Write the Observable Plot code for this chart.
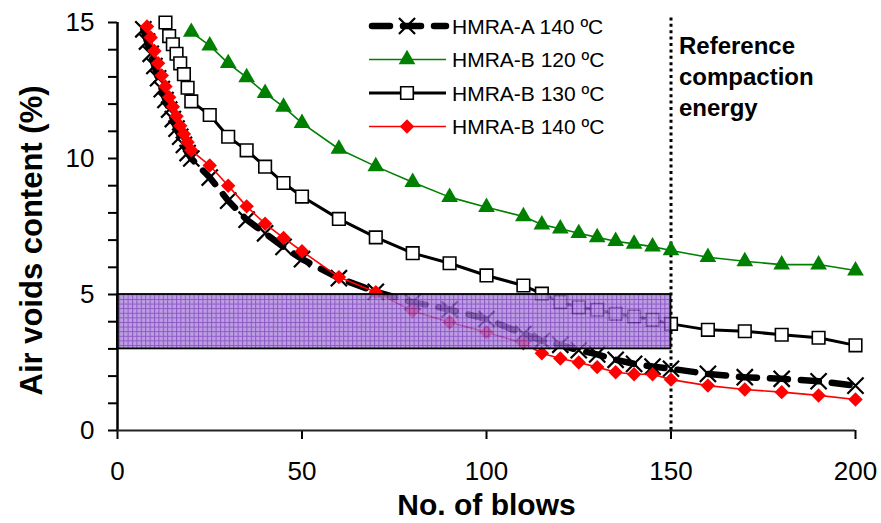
<!DOCTYPE html>
<html><head><meta charset="utf-8">
<script src="https://cdn.jsdelivr.net/npm/d3@7"></script>
<script src="https://cdn.jsdelivr.net/npm/@observablehq/plot@0.6"></script>
<style>
body{margin:0;background:#fff;}
#wrap{position:relative;width:881px;height:523px;font-family:"Liberation Sans",Arial,sans-serif;}
#wrap svg{position:absolute;left:0;top:0;}
</style></head><body><div id="wrap"></div>
<script>
// ---- data ----
const seriesNames = ["HMRA-A 140 ºC", "HMRA-B 120 ºC", "HMRA-B 130 ºC", "HMRA-B 140 ºC"];

const blowsA140 = [7,8,9,10,11,12,13,14,15,16,17,18,19,20,25,30,35,40,45,50,60,70,80,90,100,110,115,120,125,130,135,140,145,150,160,170,180,190,200];
const voidsA140 = [14.75,14.3,13.85,13.4,12.95,12.55,12.15,11.8,11.45,11.1,10.8,10.5,10.2,10.0,9.3,8.45,7.75,7.25,6.75,6.3,5.6,5.1,4.72,4.45,4.1,3.55,3.3,3.15,2.95,2.8,2.6,2.45,2.35,2.27,2.08,1.96,1.9,1.81,1.65];

const blowsB120 = [20,25,30,35,40,45,50,60,70,80,90,100,110,115,120,125,130,135,140,145,150,160,170,180,190,200];
const voidsB120 = [14.65,14.15,13.5,12.98,12.4,11.9,11.3,10.35,9.71,9.13,8.58,8.21,7.87,7.57,7.42,7.25,7.1,6.96,6.86,6.76,6.62,6.37,6.22,6.1,6.1,5.88];

const blowsB130 = [13,14,15,16,17,18,19,20,25,30,35,40,45,50,60,70,80,90,100,110,115,120,125,130,135,140,145,150,160,170,180,190,200];
const voidsB130 = [15.0,14.5,14.2,13.85,13.5,13.1,12.6,12.1,11.6,10.8,10.3,9.7,9.1,8.6,7.78,7.1,6.52,6.15,5.7,5.33,5.03,4.72,4.53,4.44,4.29,4.19,4.07,3.92,3.7,3.65,3.52,3.41,3.13];

const blowsB140 = [8,9,10,11,12,13,14,15,16,17,18,19,20,25,30,35,40,45,50,60,70,80,90,100,110,115,120,125,130,135,140,145,150,160,170,180,190,200];
const voidsB140 = [14.85,14.45,13.95,13.5,13.05,12.65,12.25,11.9,11.55,11.2,10.9,10.6,10.3,9.74,9.0,8.24,7.6,7.08,6.59,5.64,5.08,4.39,3.98,3.61,3.21,2.84,2.65,2.5,2.33,2.14,2.07,2.07,1.87,1.65,1.51,1.41,1.29,1.14];

const xTicks = [0, 50, 100, 150, 200];
const yTicks = [0,1,2,3,4,5,6,7,8,9,10,11,12,13,14,15];
const yLabelEvery = 5;
const targetBand = {x1: 0, x2: 150, y1: 3, y2: 5};
const referenceBlows = 150;
const referenceLabel = "Reference\ncompaction\nenergy";
const xTitle = "No. of blows";
const yTitle = "Air voids content (%)";

const rows = (xs, ys) => xs.map((x, i) => ({x, y: ys[i]}));
const dA = rows(blowsA140, voidsA140);
const dG = rows(blowsB120, voidsB120);
const dS = rows(blowsB130, voidsB130);
const dR = rows(blowsB140, voidsB140);

const dashA = "18,13";
const rX = 7.4, rTri = 6.2, rSq = 7.1, rDia = 6.5;

const chart = Plot.plot({
  width: 881, height: 523,
  marginLeft: 117, marginRight: 26, marginTop: 22, marginBottom: 93,
  style: {fontFamily: "'Liberation Sans', Arial, sans-serif", fontSize: "26px", color: "black", background: "transparent", overflow: "visible"},
  x: {domain: [0, 200]},
  y: {domain: [0, 15]},
  marks: [
    Plot.ruleX([referenceBlows], {y1: 0, y2: 15.2, stroke: "black", strokeWidth: 3, strokeDasharray: "3,3.4"}),
    Plot.line(dA, {x: "x", y: "y", stroke: "black", strokeWidth: 6.5, strokeDasharray: dashA, strokeLinecap: "round", strokeLinejoin: "round"}),
    Plot.dot(dA, {x: "x", y: "y", symbol: "times", r: rX, stroke: "black", strokeWidth: 2.2}),
    Plot.line(dG, {x: "x", y: "y", stroke: "#008000", strokeWidth: 1.6}),
    Plot.dot(dG, {x: "x", y: "y", symbol: "triangle", r: rTri, fill: "#008000", stroke: "none"}),
    Plot.line(dS, {x: "x", y: "y", stroke: "black", strokeWidth: 3}),
    Plot.dot(dS, {x: "x", y: "y", symbol: "square", r: rSq, fill: "white", stroke: "black", strokeWidth: 1.6}),
    Plot.line(dR, {x: "x", y: "y", stroke: "red", strokeWidth: 1.6}),
    Plot.dot(dR, {x: "x", y: "y", symbol: "diamond2", r: rDia, fill: "red", stroke: "none"}),
    Plot.rect([targetBand], {x1: "x1", x2: "x2", y1: "y1", y2: "y2", fill: "url(#gridPat)", fillOpacity: 0.8, stroke: "black", strokeWidth: 1.8}),
    Plot.axisY({ticks: yTicks, tickSize: 9, tickPadding: 14, tickFormat: d => d % yLabelEvery === 0 ? String(d) : "", label: null, fontSize: 26, strokeWidth: 2}),
    Plot.axisX({ticks: xTicks, tickSize: 9, tickPadding: 22, label: null, fontSize: 26, strokeWidth: 2}),
    Plot.ruleX([0], {stroke: "black", strokeWidth: 2.5}),
    Plot.ruleY([0], {stroke: "#222", strokeWidth: 2}),
    Plot.text([xTitle], {text: d => d, frameAnchor: "bottom", textAnchor: "middle", lineAnchor: "middle", dy: 75, fontWeight: "bold", fontSize: 30}),
    Plot.text([yTitle], {text: d => d, frameAnchor: "left", textAnchor: "middle", lineAnchor: "middle", dx: -85, dy: 14, rotate: -90, fontWeight: "bold", fontSize: 31}),
    Plot.text([referenceLabel], {text: d => d, x: referenceBlows, y: 15, dx: 8, dy: 9, textAnchor: "start", lineAnchor: "top", lineHeight: 1.3, fontWeight: "bold", fontSize: 24})
  ]
});

// grid hatch pattern for the target band
const svg = d3.select(chart);
const defs = svg.insert("defs", ":first-child");
const pat = defs.append("pattern").attr("id", "gridPat").attr("patternUnits", "userSpaceOnUse").attr("width", 4.4).attr("height", 4.6);
pat.append("rect").attr("width", 4.4).attr("height", 4.6).attr("fill", "#ac84dc");
pat.append("path").attr("d", "M0,0.5H4.4M0.5,0V4.6").attr("stroke", "#6f2fb5").attr("stroke-width", 1);

document.getElementById("wrap").appendChild(chart);

// legend (inside the plot area, top)
const leg = d3.select("#wrap").append("svg").attr("width", 881).attr("height", 160)
  .style("font-family", "'Liberation Sans', Arial, sans-serif");
const legY = [26, 59.5, 93, 126.5];
const lx1 = 369, lx2 = 446, lmid = 407, ltx = 452;
// A 140
leg.append("line").attr("x1", lx1 + 3).attr("x2", lx2).attr("y1", legY[0]).attr("y2", legY[0])
  .attr("stroke", "black").attr("stroke-width", 6.5).attr("stroke-dasharray", dashA).attr("stroke-linecap", "round");
leg.append("path").attr("d", d3.symbol(d3.symbolTimes, rX * rX * Math.PI)()).attr("transform", `translate(${lmid},${legY[0]})`)
  .attr("stroke", "black").attr("stroke-width", 2.2).attr("fill", "none");
// B 120
leg.append("line").attr("x1", lx1).attr("x2", lx2).attr("y1", legY[1]).attr("y2", legY[1]).attr("stroke", "#008000").attr("stroke-width", 1.6);
leg.append("path").attr("d", d3.symbol(d3.symbolTriangle, rTri * rTri * Math.PI)()).attr("transform", `translate(${lmid},${legY[1]})`).attr("fill", "#008000");
// B 130
leg.append("line").attr("x1", lx1).attr("x2", lx2).attr("y1", legY[2]).attr("y2", legY[2]).attr("stroke", "black").attr("stroke-width", 3);
leg.append("path").attr("d", d3.symbol(d3.symbolSquare, rSq * rSq * Math.PI)()).attr("transform", `translate(${lmid},${legY[2]})`)
  .attr("fill", "white").attr("stroke", "black").attr("stroke-width", 1.6);
// B 140
leg.append("line").attr("x1", lx1).attr("x2", lx2).attr("y1", legY[3]).attr("y2", legY[3]).attr("stroke", "red").attr("stroke-width", 1.6);
leg.append("path").attr("d", d3.symbol(d3.symbolDiamond2, rDia * rDia * Math.PI)()).attr("transform", `translate(${lmid},${legY[3]})`).attr("fill", "red");
seriesNames.forEach((name, i) => {
  leg.append("text").attr("x", ltx).attr("y", legY[i]).attr("dy", "0.36em").attr("font-size", 21).attr("fill", "black").text(name);
});
</script></body></html>
